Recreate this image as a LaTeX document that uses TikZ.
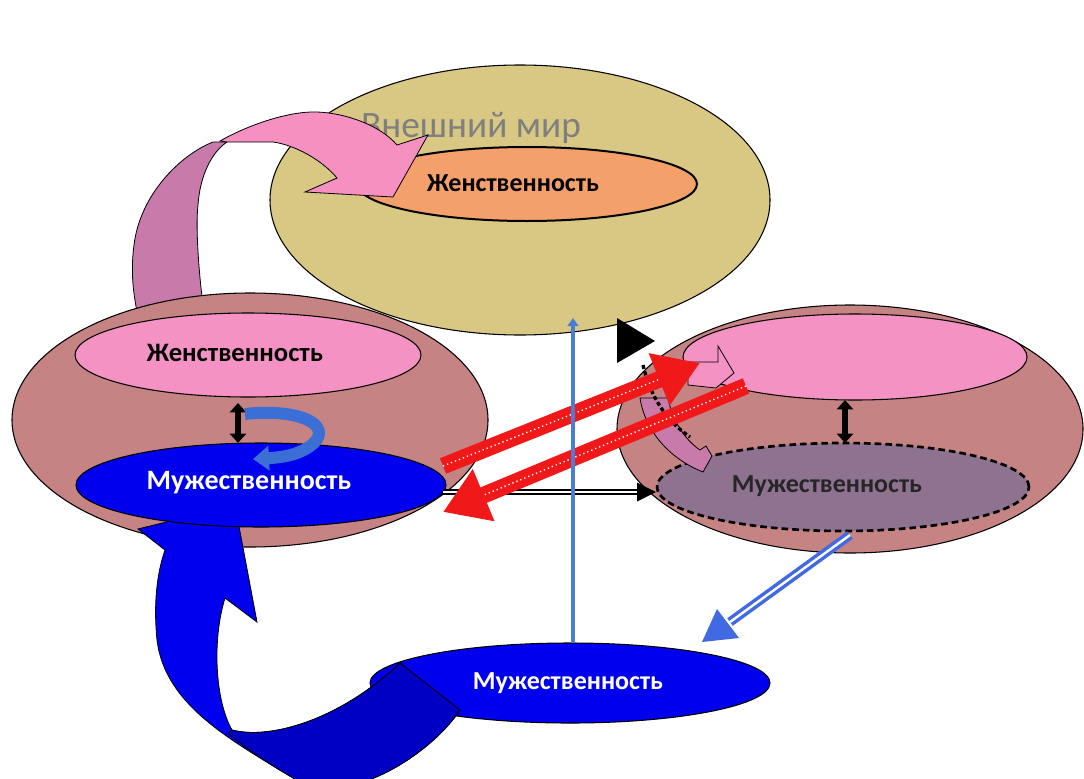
\documentclass[tikz,border=0pt]{standalone}
\usepackage{fontspec}
\setmainfont{Carlito}
\usetikzlibrary{shapes.geometric,arrows.meta,calc}
\definecolor{worldc}{HTML}{D9C884}
\definecolor{orangec}{HTML}{F4A06A}
\definecolor{brownc}{HTML}{C68383}
\definecolor{pinkc}{HTML}{F592C4}
\definecolor{bluec}{HTML}{0000EE}
\definecolor{darkbluec}{HTML}{0000C4}
\definecolor{grayc}{HTML}{8E7290}
\definecolor{mauvec}{HTML}{C87AAA}
\definecolor{pinkarrow}{HTML}{F590C0}
\definecolor{redc}{HTML}{F01818}
\definecolor{linec}{HTML}{4A7ED6}
\definecolor{dblbluec}{HTML}{4169E1}
\definecolor{curlc}{HTML}{3C6FD6}
\definecolor{worldtext}{HTML}{7F7F7F}
\begin{document}
\begin{tikzpicture}[x=0.75pt,y=-0.75pt,
  ell/.style={ellipse, draw=black, line width=0.8pt, inner sep=0pt},
  lbl/.style={font=\bfseries\fontsize{19.5}{22}\selectfont, inner sep=0pt},
  blk/.style={draw=black, line width=0.6pt},
  vdbl/.style={line width=4.5pt, {Triangle[length=7pt,width=12pt]}-{Triangle[length=7pt,width=12pt]}},
  redarrow/.style={redc, line width=12.5pt, -{Triangle[length=33pt,width=40pt]}},
  reddots/.style={white, line width=1pt, dash pattern=on 1pt off 2.2pt}
]
\clip (0,0) rectangle (1084,778);
\fill[white] (0,0) rectangle (1084,778);

% back part of the pink curved arrow
\filldraw[fill=mauvec, blk] (213,142) .. controls (180,155) and (140,195) .. (134,245)
  .. controls (130,275) and (134,300) .. (140,325) -- (206,325)
  .. controls (200,290) and (195,230) .. (198,205)
  .. controls (200,175) and (212,152) .. (227,142) -- cycle;

% big side ellipses
\node[ell, fill=brownc, minimum width=357pt, minimum height=190.5pt] (Lbig) at (250,420) {};
\node[ell, fill=brownc, minimum width=349.5pt, minimum height=186pt] (Rbig) at (850,429) {};

% outer world
\node[ell, fill=worldc, minimum width=375pt, minimum height=202.5pt] (world) at (520,200) {};
\node[font=\fontsize{28}{32}\selectfont, text=worldtext, inner sep=0pt] (worldlbl) at (471,128) {Внешний мир};
\node[ell, fill=orangec, line width=1.5pt, minimum width=255pt, minimum height=55.5pt] (ftop) at (527,184) {};
\node[lbl] (ftoplbl) at (513,183) {Женственность};

% front part of the pink curved arrow
\filldraw[fill=pinkarrow, blk] (220,141) .. controls (250,124) and (290,111) .. (317,112)
  .. controls (345,113) and (380,125) .. (397,145) -- (428,135) -- (393,197) -- (305,192) -- (337,178)
  .. controls (322,160) and (295,145) .. (273,142) -- (227,142) -- cycle;

% bottom ellipse
\node[ell, fill=bluec, minimum width=300pt, minimum height=60pt] (Bblue) at (570,683) {};

% big blue curved arrow
\filldraw[fill=bluec, blk] (235,505) -- (257,622) -- (225,598)
  .. controls (212,640) and (215,700) .. (232,730)
  .. controls (270,740) and (340,720) .. (400,663) -- (460,710)
  .. controls (440,740) and (400,770) .. (363,782) -- (300,782)
  .. controls (230,740) and (165,705) .. (157,640)
  .. controls (153,600) and (158,570) .. (165,550) -- (138,529) -- cycle;
\filldraw[fill=darkbluec, blk] (232,730) .. controls (270,740) and (340,720) .. (400,663) -- (460,710)
  .. controls (440,740) and (400,770) .. (363,782) -- (300,782)
  .. controls (270,765) and (248,750) .. (228,733) -- cycle;

% inner ellipses
\node[ell, fill=pinkc, minimum width=259.5pt, minimum height=63pt] (Lpink) at (248,355) {};
\node[lbl, font=\bfseries\fontsize{20}{22}\selectfont] (Lpinklbl) at (235,353) {Женственность};
\node[ell, fill=bluec, minimum width=277.5pt, minimum height=63pt] (Lblue) at (261,485) {};
\node[lbl, font=\bfseries\fontsize{21}{24}\selectfont, text=white] (Lbluelbl) at (249,483) {Мужественность};
\node[ell, fill=pinkc, minimum width=258pt, minimum height=64.5pt] (Rpink) at (855,357) {};
\node[ell, fill=grayc, line width=2pt, dash pattern=on 5pt off 3pt, minimum width=279pt, minimum height=66pt] (Rgray) at (843,487) {};
\node[lbl, text=black!85] (Rgraylbl) at (827,486) {Мужественность};

% vertical double arrows
\coordinate (LvA) at (238,403); \coordinate (LvB) at (238,443);
\draw[vdbl] (LvA) -- (LvB);
\coordinate (RvA) at (845,400); \coordinate (RvB) at (845,443);
\draw[vdbl] (RvA) -- (RvB);

% small blue curl
\coordinate (curlA) at (245,414); \coordinate (curlB) at (253,459);
\draw[curlc, line width=9pt, -{Triangle[length=12pt,width=18pt]}] (curlA)
  .. controls (300,408) and (332,425) .. (314,443)
  .. controls (304,452) and (290,457) .. (curlB);

% right-side curved arrow pieces
\filldraw[fill=mauvec, blk] (640,398) .. controls (645,430) and (668,458) .. (703,472)
  -- (712,456) -- (706,446) -- (700,450)
  .. controls (685,440) and (672,420) .. (668,398) -- cycle;
\filldraw[fill=pinkc, blk] (688,362) -- (718,362) -- (718,346) -- (734,373) -- (716,388) -- (688,385) -- cycle;
\draw[black, line width=2.5pt, dash pattern=on 3pt off 2pt] (643,365) .. controls (650,395) and (665,420) .. (690,437);

% black arrowhead near the world
\fill[black] (617,318) -- (617,363) -- (655,341) -- cycle;

% black double horizontal arrow
\coordinate (hA) at (443,492); \coordinate (hB) at (640,492); \coordinate (hTip) at (656,492);
\draw[black, line width=1.2pt, double=white, double distance=2pt] (hA) -- (hB);
\fill[black] (637,482.5) -- (hTip) -- (637,501.5) -- cycle;

% blue double arrow to the bottom ellipse
\coordinate (bA) at (850,535); \coordinate (bB) at (730,622); \coordinate (bTip) at (702,642);
\draw[dblbluec, line width=2.6pt, double=white, double distance=1.8pt] (bA) -- (bB);
\fill[dblbluec] (717,609) -- (bTip) -- (739,638) -- cycle;

% red arrows
\coordinate (r1A) at (443,466); \coordinate (r1B) at (700,363);
\coordinate (r2A) at (746,386); \coordinate (r2B) at (443,512);
\draw[redarrow] (r1A) -- (r1B);
\draw[reddots] (r1A) -- ($(r1B)!33pt!(r1A)$);
\draw[redarrow] (r2A) -- (r2B);
\draw[reddots] (r2A) -- ($(r2B)!33pt!(r2A)$);

% blue vertical line
\coordinate (vA) at (573,643); \coordinate (vB) at (573,318);
\draw[linec, line width=3.5pt, -{Triangle[length=6pt,width=8pt]}] (vA) -- (vB);

\node[lbl, text=white] (Bbluelbl) at (568,683) {Мужественность};
\end{tikzpicture}
\end{document}
